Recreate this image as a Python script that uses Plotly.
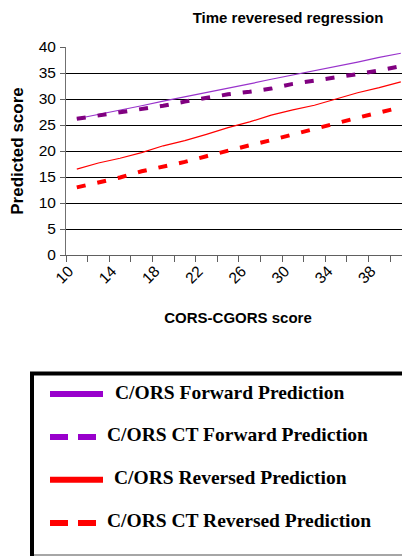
import plotly.graph_objects as go

# ---- data ----
cors_cgors_score = [10, 12, 14, 16, 18, 20, 22, 24, 26, 28, 30, 32, 34, 36, 38, 40]
cors_forward = [26.2, 27.0, 27.9, 28.7, 29.6, 30.4, 31.2, 32.1, 32.9, 33.8, 34.6, 35.4, 36.3, 37.1, 38.0, 38.8]
cors_ct_forward = [26.2, 26.8, 27.5, 28.1, 28.7, 29.5, 30.2, 30.9, 31.4, 32.0, 32.9, 33.5, 34.2, 34.8, 35.5, 36.3]
cors_reversed = [16.5, 17.7, 18.6, 19.7, 21.0, 22.0, 23.2, 24.5, 25.6, 26.9, 27.9, 28.8, 30.0, 31.2, 32.2, 33.3]
cors_ct_reversed = [13.0, 14.0, 14.9, 16.1, 17.0, 17.9, 19.0, 20.1, 21.1, 22.1, 23.2, 24.2, 25.3, 26.4, 27.4, 28.4]

series_names = ["C/ORS Forward Prediction", "C/ORS CT Forward Prediction",
                "C/ORS Reversed Prediction", "C/ORS CT Reversed Prediction"]
x_tick_labels = ["10", "14", "18", "22", "26", "30", "34", "38"]
y_tick_values = [0, 5, 10, 15, 20, 25, 30, 35, 40]

# The page body has an 8px default margin; work in window pixels and subtract it.
OFF = 8
WIN_W, WIN_H = 410, 556
W, H = WIN_W - OFF, WIN_H - OFF
ML, MT = 66 - OFF, 47 - OFF
PLOT_BOTTOM = 255 - OFF
MR, MB = 0, H - PLOT_BOTTOM
PW, PH = W - ML - MR, H - MT - MB

SANS = "Liberation Sans, Arial, sans-serif"
SERIF = "Liberation Serif, Times New Roman, serif"

fig = go.Figure()
fig.add_trace(go.Scatter(x=cors_cgors_score, y=cors_forward, mode="lines", name=series_names[0],
                         line=dict(color="#9933CC", width=1.2), showlegend=False))
fig.add_trace(go.Scatter(x=cors_cgors_score, y=cors_ct_forward, mode="lines", name=series_names[1],
                         line=dict(color="#800080", width=4, dash="9px,12px"), showlegend=False))
fig.add_trace(go.Scatter(x=cors_cgors_score, y=cors_reversed, mode="lines", name=series_names[2],
                         line=dict(color="#FF0000", width=1.2), showlegend=False))
fig.add_trace(go.Scatter(x=cors_cgors_score, y=cors_ct_reversed, mode="lines", name=series_names[3],
                         line=dict(color="#FF0000", width=4, dash="9px,12px"), showlegend=False))


def px_x(p):
    # p given in window pixels
    return (p - OFF - ML) / PW


def px_y(p):
    return (PLOT_BOTTOM - (p - OFF)) / PH


shapes = []
annotations = []
# legend box
shapes.append(dict(type="rect", xref="paper", yref="paper",
                   x0=px_x(32), x1=px_x(440), y0=px_y(373.5), y1=px_y(590),
                   line=dict(color="black", width=4), fillcolor="white", layer="above"))
shapes.append(dict(type="line", xref="paper", yref="paper",
                   x0=px_x(34), x1=px_x(412), y0=px_y(555), y1=px_y(555),
                   line=dict(color="#888888", width=1.5)))

legend_rows = [
    (series_names[0], "#9900CC", "solid", 394, 103, 113, 392),
    (series_names[1], "#9900CC", "18px,10px", 437, 96, 105, 434),
    (series_names[2], "#FF0000", "solid", 479.7, 103, 111.5, 477.5),
    (series_names[3], "#FF0000", "18px,10px", 523, 96, 105, 520),
]
for name, col, dash, ly, lx1, tx, ty in legend_rows:
    shapes.append(dict(type="line", xref="paper", yref="paper",
                       x0=px_x(50), x1=px_x(lx1), y0=px_y(ly), y1=px_y(ly),
                       line=dict(color=col, width=6, dash=dash)))
    annotations.append(dict(xref="paper", yref="paper", x=px_x(tx), y=px_y(ty),
                            xanchor="left", yanchor="middle", showarrow=False,
                            text="<b>%s</b>" % name,
                            font=dict(family=SERIF, size=19.5, color="black")))

fig.update_layout(
    width=W, height=H,
    margin=dict(l=ML, r=MR, t=MT, b=MB, pad=0),
    paper_bgcolor="white", plot_bgcolor="white",
    title=dict(text="<b>Time reveresed regression</b>", x=(288 - OFF) / W, xanchor="center",
               y=1 - (18 - OFF) / H, yanchor="middle",
               font=dict(family=SANS, size=15, color="black")),
    font=dict(family=SANS, color="black"),
    shapes=shapes, annotations=annotations,
    showlegend=False,
)

fig.update_xaxes(
    range=[9, 40.85], showgrid=False, zeroline=False,
    showline=True, linecolor="#606060", linewidth=1,
    tickmode="array", tickvals=[int(t) for t in x_tick_labels], ticktext=x_tick_labels,
    ticks="", tickangle=-45, ticklabelshift=-8,
    tickfont=dict(family=SANS, size=15.5, color="black"),
    minor=dict(tick0=9, dtick=2, ticks="outside", ticklen=6, tickcolor="#606060", showgrid=False),
    title=dict(text="<b>CORS-CGORS score</b>", standoff=26,
               font=dict(family=SANS, size=15, color="black")),
)
fig.update_yaxes(
    range=[0, 40], tickmode="array", tickvals=y_tick_values,
    showgrid=True, gridcolor="#000000", gridwidth=1, zeroline=False,
    showline=True, linecolor="#707070", linewidth=1,
    ticks="outside", ticklen=5, tickcolor="#606060", ticklabelstandoff=1,
    tickfont=dict(family=SANS, size=15.5, color="black"),
    title=dict(text="<b>Predicted score</b>", standoff=12,
               font=dict(family=SANS, size=17, color="black")),
)

fig.write_html("out.html")
